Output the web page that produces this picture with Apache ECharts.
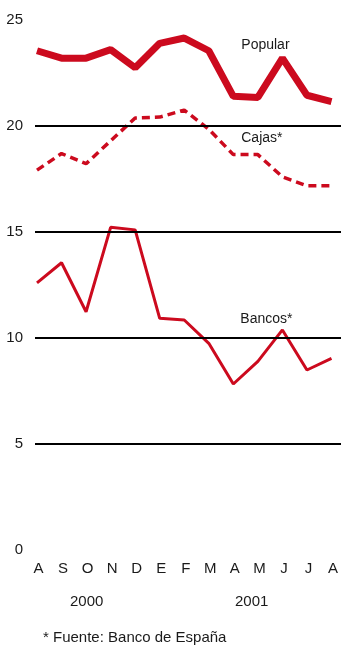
<!DOCTYPE html>
<html>
<head>
<meta charset="utf-8">
<script src="https://cdn.jsdelivr.net/npm/echarts@6/dist/echarts.min.js"></script>
<style>
  html, body { margin: 0; padding: 0; background: #fff; }
  #chart { width: 341px; height: 646px; }
</style>
</head>
<body>
<div id="chart"></div>
<script>
// Months from August 2000 to August 2001
const months = ['A', 'S', 'O', 'N', 'D', 'E', 'F', 'M', 'A', 'M', 'J', 'J', 'A'];

// Rates (%)
const popular = [23.55, 23.2, 23.2, 23.6, 22.75, 23.9, 24.15, 23.55, 21.4, 21.35, 23.2, 21.45, 21.15];
const cajas   = [17.92, 18.7, 18.22, 19.3, 20.38, 20.42, 20.75, 19.85, 18.65, 18.65, 17.6, 17.18, 17.18];
const bancos  = [12.6, 13.55, 11.24, 15.22, 15.1, 10.93, 10.85, 9.75, 7.83, 8.9, 10.38, 8.49, 9.04];

const yTicks = [0, 5, 10, 15, 20, 25];
const gridValues = [5, 10, 15, 20];
const years = ['2000', '2001'];
const source = '* Fuente: Banco de España';

const RED = '#cc0a1e';
const INK = '#1a1a1a';
const FONT = '"Liberation Sans", Arial, sans-serif';

const chart = echarts.init(document.getElementById('chart'), null, { renderer: 'canvas' });

// put a name tag on one point of a series
function withLabel(values, idx, text, offset) {
  return values.map((v, i) => i === idx ? {
    value: v,
    label: {
      show: true, formatter: text, position: 'top', offset: offset,
      color: INK, fontFamily: FONT, fontSize: 14
    }
  } : v);
}

const baseLine = {
  type: 'line',
  symbol: 'circle',
  symbolSize: 0,
  showSymbol: true,
  itemStyle: { color: 'rgba(0,0,0,0)' },
  emphasis: { disabled: true }
};

chart.setOption({
  animation: false,
  grid: { left: 37, right: 6, top: 20, bottom: 96 },
  xAxis: {
    type: 'category',
    data: months,
    boundaryGap: false,
    axisLine: { show: false },
    axisTick: { show: false },
    axisLabel: { color: INK, fontFamily: FONT, fontSize: 15, margin: 11, interval: 0, padding: [0, 0, 0, 3] },
    splitLine: { show: false }
  },
  yAxis: {
    type: 'value',
    min: yTicks[0],
    max: yTicks[yTicks.length - 1],
    interval: 5,
    axisLine: { show: false },
    axisTick: { show: false },
    axisLabel: { color: INK, fontFamily: FONT, fontSize: 15, margin: 14, padding: [4, 0, 0, 0] },
    splitLine: { show: false }
  },
  series: [
    Object.assign({}, baseLine, {
      name: 'Bancos*', data: withLabel(bancos, 10, 'Bancos*', [-16, 1]),
      lineStyle: { color: RED, width: 3 }, z: 3,
      // horizontal reference lines, running the full chart width
      markLine: {
        silent: true, symbol: 'none', label: { show: false },
        lineStyle: { color: '#000', width: 2, type: 'solid' },
        data: gridValues.map(v => [{ x: 35, yAxis: v }, { x: 341, yAxis: v }])
      }
    }),
    Object.assign({}, baseLine, {
      name: 'Cajas*', data: withLabel(cajas, 9, 'Cajas*', [4, -4]),
      lineStyle: { color: RED, width: 3.5, type: [8, 5] }, z: 4
    }),
    Object.assign({}, baseLine, {
      name: 'Popular', data: withLabel(popular, 10, 'Popular', [-17, -1]),
      lineStyle: { color: RED, width: 7 }, z: 5
    })
  ],
  graphic: [
    { type: 'text', left: 70, top: 594, style: { text: years[0], fill: INK, font: '15px ' + FONT } },
    { type: 'text', left: 235, top: 594, style: { text: years[1], fill: INK, font: '15px ' + FONT } },
    { type: 'text', left: 43, top: 630, style: { text: source, fill: INK, font: '15px ' + FONT } }
  ]
});
</script>
</body>
</html>
